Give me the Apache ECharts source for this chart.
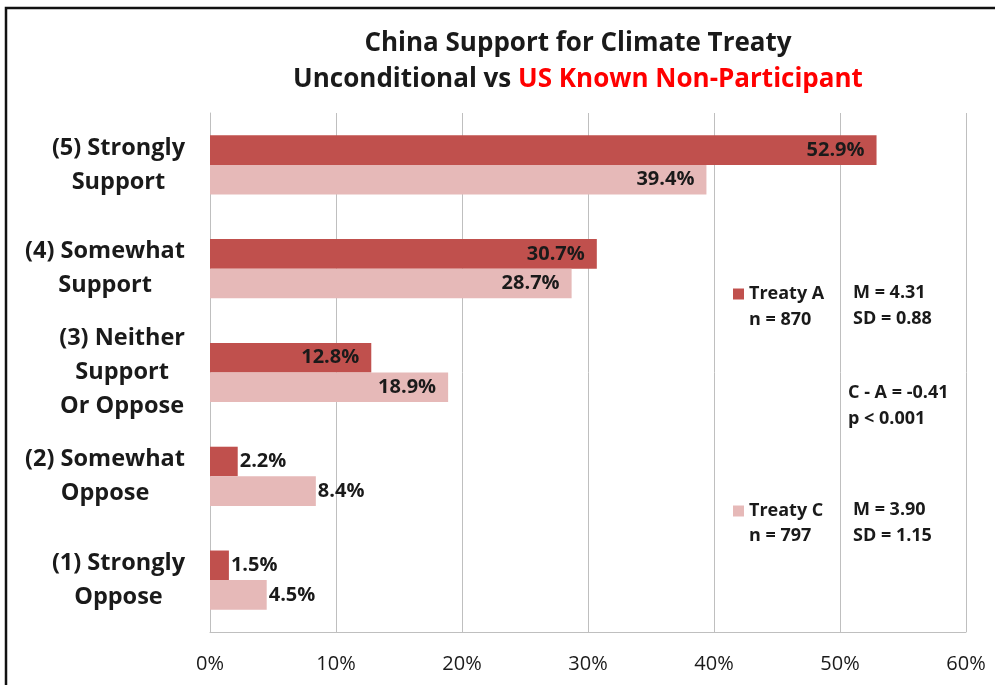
<!DOCTYPE html>
<html>
<head>
<meta charset="utf-8">
<title>China Support for Climate Treaty</title>
<script src="https://cdn.jsdelivr.net/npm/echarts@6/dist/echarts.min.js"></script>
<style>
  html, body { margin: 0; padding: 0; background: #fff; }
  #chart { width: 995px; height: 685px; }
</style>
</head>
<body>
<div id="chart"></div>
<script>
// Response categories, top to bottom
const categories = [
  '(5) Strongly\nSupport',
  '(4) Somewhat\nSupport',
  '(3) Neither\nSupport\nOr Oppose',
  '(2) Somewhat\nOppose',
  '(1) Strongly\nOppose'
];
// Share of respondents (%)
const treatyA = [52.9, 30.7, 12.8, 2.2, 1.5];
const treatyC = [39.4, 28.7, 18.9, 8.4, 4.5];
// Percentage axis ticks
const xTicks = [0, 10, 20, 30, 40, 50, 60];

// Group statistics
const statsA = { name: 'Treaty A', n: 'n = 870', m: 'M = 4.31', sd: 'SD = 0.88' };
const statsC = { name: 'Treaty C', n: 'n = 797', m: 'M = 3.90', sd: 'SD = 1.15' };
const diffLines = ['C - A = -0.41', 'p < 0.001'];

const FONT = '"Open Sans", Lato, sans-serif';
const TEXT = '#1a1a1a';
const RED_DARK = '#C0504D';
const RED_LIGHT = '#E6B9B8';
const GRID_LINE = '#BFBFBF';

// Long bars carry their value inside the end, short bars just outside it
function withLabels(values) {
  return values.map(v => ({
    value: v,
    label: v > 10
      ? { position: 'insideRight', distance: 12 }
      : { position: 'right', distance: 2 }
  }));
}

const barLabel = {
  show: true,
  formatter: p => p.value.toFixed(1) + '%',
  fontFamily: FONT,
  fontWeight: 'bold',
  fontSize: 20,
  color: TEXT
};

const chart = echarts.init(document.getElementById('chart'), null, { renderer: 'canvas' });

const textStyle = (size, weight) => ({
  fontFamily: FONT, fontSize: size, fontWeight: weight || 'bold', fill: TEXT
});

chart.setOption({
  animation: false,
  backgroundColor: '#fff',
  title: {
    left: 578,
    top: 26,
    padding: 0,
    textAlign: 'center',
    text: 'China Support for Climate Treaty',
    subtext: '{k|Unconditional vs }{r|US Known Non-Participant}',
    itemGap: 1,
    textStyle: { fontFamily: FONT, fontSize: 26, fontWeight: 'bold', color: TEXT, lineHeight: 36 },
    subtextStyle: {
      rich: {
        k: { fontFamily: FONT, fontSize: 26, fontWeight: 'bold', color: TEXT, lineHeight: 34 },
        r: { fontFamily: FONT, fontSize: 26, fontWeight: 'bold', color: '#FF0000', lineHeight: 34 }
      }
    }
  },
  legend: [
    {
      data: [statsA.name], left: 733, top: 285, padding: 0, orient: 'vertical',
      icon: 'rect', itemWidth: 11, itemHeight: 11, itemGap: 0,
      textStyle: { fontFamily: FONT, fontSize: 18, fontWeight: 'bold', color: TEXT, padding: [0, 0, 0, 0] }
    },
    {
      data: [statsC.name], left: 733, top: 502, padding: 0, orient: 'vertical',
      icon: 'rect', itemWidth: 11, itemHeight: 11, itemGap: 0,
      textStyle: { fontFamily: FONT, fontSize: 18, fontWeight: 'bold', color: TEXT, padding: [0, 0, 0, 0] }
    }
  ],
  grid: { left: 210, right: 29, top: 113, bottom: 53 },
  xAxis: {
    type: 'value',
    min: xTicks[0],
    max: xTicks[xTicks.length - 1],
    interval: xTicks[1] - xTicks[0],
    axisLine: { show: true, lineStyle: { color: GRID_LINE, width: 1 } },
    axisTick: { show: false },
    splitLine: { show: true, lineStyle: { color: GRID_LINE, width: 1 } },
    axisLabel: {
      formatter: '{value}%',
      fontFamily: FONT, fontSize: 20, color: TEXT, margin: 22
    }
  },
  yAxis: {
    type: 'category',
    data: categories,
    inverse: true,
    axisTick: { show: false },
    axisLine: { show: true, lineStyle: { color: GRID_LINE, width: 1 } },
    axisLabel: {
      align: 'right',
      margin: 25,
      formatter: v => v.split('\n').map(l => '{c|' + l + '}').join('\n'),
      rich: {
        c: {
          align: 'center', fontFamily: FONT, fontSize: 23.5, fontWeight: 'bold',
          color: TEXT, lineHeight: 34
        }
      }
    }
  },
  series: [
    {
      name: statsA.name, type: 'bar', data: withLabels(treatyA),
      itemStyle: { color: RED_DARK },
      barGap: '0%', barCategoryGap: '43%',
      label: barLabel
    },
    {
      name: statsC.name, type: 'bar', data: withLabels(treatyC),
      itemStyle: { color: RED_LIGHT },
      barGap: '0%', barCategoryGap: '43%',
      label: barLabel
    }
  ],
  graphic: [
    // frame around the chart
    { type: 'rect', shape: { x: 6, y: 8, width: 1200, height: 900 },
      style: { fill: 'none', stroke: '#111', lineWidth: 2.5 }, silent: true },
    { type: 'text', x: 749, y: 320, style: Object.assign(textStyle(18), { text: statsA.n, textVerticalAlign: 'middle' }) },
    { type: 'text', x: 853, y: 293, style: Object.assign(textStyle(18), { text: statsA.m, textVerticalAlign: 'middle' }) },
    { type: 'text', x: 853, y: 319, style: Object.assign(textStyle(18), { text: statsA.sd, textVerticalAlign: 'middle' }) },
    { type: 'text', x: 848, y: 393, style: Object.assign(textStyle(18), { text: diffLines[0], textVerticalAlign: 'middle' }) },
    { type: 'text', x: 848, y: 419, style: Object.assign(textStyle(18), { text: diffLines[1], textVerticalAlign: 'middle' }) },
    { type: 'text', x: 749, y: 536, style: Object.assign(textStyle(18), { text: statsC.n, textVerticalAlign: 'middle' }) },
    { type: 'text', x: 853, y: 510, style: Object.assign(textStyle(18), { text: statsC.m, textVerticalAlign: 'middle' }) },
    { type: 'text', x: 853, y: 536, style: Object.assign(textStyle(18), { text: statsC.sd, textVerticalAlign: 'middle' }) }
  ]
});
</script>
</body>
</html>
